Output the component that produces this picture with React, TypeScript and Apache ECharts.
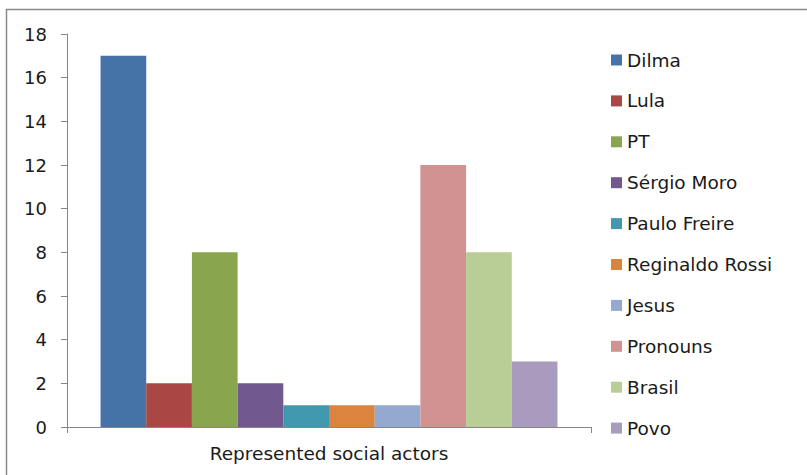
import React, { useEffect, useRef } from "react";
import * as echarts from "echarts";

const categories = ["Represented social actors"];
const seriesNames = [
  "Dilma",
  "Lula",
  "PT",
  "Sérgio Moro",
  "Paulo Freire",
  "Reginaldo Rossi",
  "Jesus",
  "Pronouns",
  "Brasil",
  "Povo",
];
const seriesValues = [17, 2, 8, 2, 1, 1, 1, 12, 8, 3];
const seriesColors = [
  "#4572A7",
  "#AA4643",
  "#89A54E",
  "#71588F",
  "#4198AF",
  "#DB843D",
  "#93A9CF",
  "#D19392",
  "#B9CD96",
  "#A99BBD",
];
const yTicks = { min: 0, max: 18, interval: 2 };

const FONT = "DejaVu Sans";

export default function App() {
  const ref = useRef<HTMLDivElement>(null);
  useEffect(() => {
    if (!ref.current) return;
    const chart = echarts.init(ref.current, undefined, { renderer: "svg" });
    chart.setOption({
      animation: false,
      backgroundColor: "#ffffff",
      textStyle: { fontFamily: FONT },
      graphic: [
        {
          type: "rect",
          shape: { x: 6.5, y: 9.5, width: 900, height: 600 },
          style: { fill: "none", stroke: "#8a8a8a", lineWidth: 1.5 },
          silent: true,
        },
      ],
      grid: { left: 67, right: 216, top: 34, bottom: 48, containLabel: false },
      legend: {
        orient: "vertical",
        left: 611,
        top: 50,
        padding: 0,
        icon: "rect",
        itemWidth: 11,
        itemHeight: 11,
        itemGap: 20.9,
        textStyle: { fontFamily: FONT, fontSize: 18.5, color: "#1a1a1a", lineHeight: 20 },
        data: seriesNames,
      },
      xAxis: {
        type: "category",
        data: categories,
        axisLine: { show: true, lineStyle: { color: "#868686", width: 1 } },
        axisTick: { show: true, length: 6, lineStyle: { color: "#868686" } },
        axisLabel: { fontFamily: FONT, fontSize: 18.5, color: "#1a1a1a", margin: 17 },
      },
      yAxis: {
        type: "value",
        min: yTicks.min,
        max: yTicks.max,
        interval: yTicks.interval,
        splitLine: { show: false },
        axisLine: { show: true, lineStyle: { color: "#868686", width: 1 } },
        axisTick: { show: true, length: 6, lineStyle: { color: "#868686" } },
        axisLabel: { fontFamily: FONT, fontSize: 18, color: "#1a1a1a", margin: 20 },
      },
      series: seriesNames.map((name, i) => ({
        name,
        type: "bar",
        data: [seriesValues[i]],
        barGap: "0%",
        barCategoryGap: "12.8%",
        itemStyle: { color: seriesColors[i] },
      })),
    });
    return () => chart.dispose();
  }, []);
  return (
    <div
      ref={ref}
      style={{ position: "absolute", left: 0, top: 0, width: 807, height: 475 }}
    />
  );
}
